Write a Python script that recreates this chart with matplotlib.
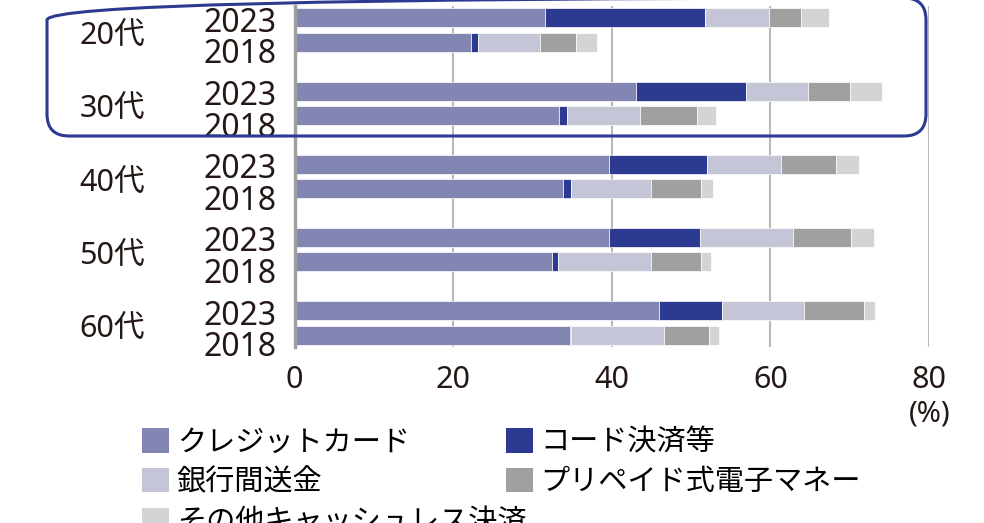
import matplotlib
matplotlib.use("Agg")
import matplotlib.pyplot as plt
from matplotlib.patches import Patch, FancyBboxPatch
from matplotlib.transforms import IdentityTransform, blended_transform_factory

# 数字は Noto Sans、日本語は Noto Sans CJK JP
plt.rcParams["font.family"] = ["Noto Sans", "Noto Sans CJK JP", "DejaVu Sans"]

# データ（各年代 2023, 2018 の順）
ages = ["20代", "30代", "40代", "50代", "60代"]
years = ["2023", "2018"]
series_names = ["クレジットカード", "コード決済等", "銀行間送金",
                "プリペイド式電子マネー", "その他キャッシュレス決済"]
credit = [31.6, 22.2, 43.0, 33.4, 39.7, 33.9, 39.7, 32.5, 46.0, 34.7]
code = [20.2, 0.9, 13.9, 0.9, 12.3, 0.9, 11.4, 0.7, 7.9, 0.1]
bank = [8.0, 7.8, 7.8, 9.2, 9.4, 10.1, 11.7, 11.7, 10.3, 11.8]
prepaid = [4.1, 4.6, 5.3, 7.2, 6.9, 6.4, 7.4, 6.4, 7.6, 5.6]
other = [3.5, 2.6, 4.1, 2.5, 2.9, 1.4, 2.9, 1.2, 1.4, 1.3]
x_ticks = [0, 20, 40, 60, 80]

colors = ["#8386B2", "#2C3A91", "#C4C5D7", "#A0A0A0", "#D4D4D4"]
series = [credit, code, bank, prepaid, other]
txt_color = "#231815"

fig = plt.figure(figsize=(9.84, 5.23), dpi=100)
ax = fig.add_axes([0.2994, 0.3365, 0.6447, 0.652])

# 行の位置
pos = []
for i in range(len(ages)):
    pos += [3 * i, 3 * i + 1]

left = [0.0] * len(pos)
for vals, col in zip(series, colors):
    ax.barh(pos, vals, left=left, height=0.78, color=col,
            edgecolor="white", linewidth=0.5, zorder=2)
    left = [a + b for a, b in zip(left, vals)]

ax.set_xlim(0, 80)
ax.set_ylim(13.49, -0.49)
ax.set_xticks(x_ticks)
ax.set_xticklabels([str(t) for t in x_ticks], fontsize=22, color=txt_color)
ax.set_yticks([])
ax.tick_params(axis="x", length=0, pad=13)
for s in ["top", "right", "bottom"]:
    ax.spines[s].set_visible(False)
ax.spines["left"].set_color("#9E9E9E")
ax.spines["left"].set_linewidth(2.4)
ax.spines["left"].set_zorder(3)
for t in x_ticks[1:]:
    ax.axvline(t, color="#B8B8B8", linewidth=1.5, zorder=1)

# ラベル
tr = blended_transform_factory(fig.transFigure, ax.transData)
for i, age in enumerate(ages):
    ax.text(112 / 984, 3 * i + 1.12, age, transform=tr, ha="center",
            va="baseline", fontsize=22, color=txt_color)
    for j, yr in enumerate(years):
        ax.text(277 / 984, 3 * i + j + 0.57 + 0.29 * j, yr, transform=tr,
                ha="right", va="baseline", fontsize=23, color=txt_color)

fig.text(930 / 984, 1 - 413.5 / 523, "(%)", ha="center", va="center",
         fontsize=21, color=txt_color)

# 20代・30代の強調枠
box = FancyBboxPatch((47, 523 - 136), 879, 138,
                     boxstyle="round,pad=0,rounding_size=22",
                     transform=IdentityTransform(), fill=False,
                     edgecolor="#2C3A91", linewidth=2.2, zorder=5)
fig.add_artist(box)

# 凡例
handles = [Patch(facecolor=c) for c in colors]
order = [0, 2, 1, 3]
leg_kw = dict(frameon=False, handlelength=0.92, handleheight=0.92,
              handletextpad=0.27, labelspacing=0.35, fontsize=21,
              borderpad=0, borderaxespad=0, loc="upper left")
fig.legend([handles[k] for k in order], [series_names[k] for k in order],
           ncol=2, columnspacing=3.3, bbox_to_anchor=(142 / 984, 1 - 428 / 523),
           **leg_kw)
fig.legend([handles[4]], [series_names[4]],
           bbox_to_anchor=(142 / 984, 1 - 508 / 523), **leg_kw)

fig.savefig("out.png", dpi=100)
